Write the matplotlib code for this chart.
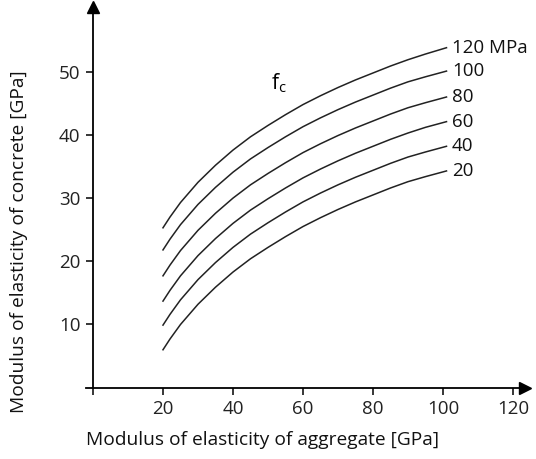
import matplotlib
matplotlib.use('Agg')
import matplotlib.pyplot as plt

plt.rcParams['font.family'] = ['Open Sans', 'DejaVu Sans']

# 骨料弹性模量 [GPa]
agg_modulus = [20, 22, 25, 30, 35, 40, 45, 50, 55, 60, 65, 70, 75, 80, 85, 90, 95, 101]
# 各混凝土强度下的弹性模量 [GPa]
curve_labels = ['120 MPa', '100', '80', '60', '40', '20']
ec_120 = [25.3, 27.0, 29.3, 32.5, 35.2, 37.6, 39.7, 41.5, 43.2, 44.8, 46.2, 47.5, 48.7, 49.8, 50.9, 51.9, 52.8, 53.8]
ec_100 = [21.8, 23.5, 25.8, 29.0, 31.7, 34.1, 36.2, 38.0, 39.7, 41.3, 42.7, 44.0, 45.2, 46.3, 47.4, 48.4, 49.2, 50.1]
ec_80 = [17.7, 19.4, 21.7, 24.9, 27.6, 30.0, 32.1, 33.9, 35.6, 37.2, 38.6, 39.9, 41.1, 42.2, 43.3, 44.3, 45.1, 46.0]
ec_60 = [13.7, 15.4, 17.7, 20.9, 23.6, 26.0, 28.1, 29.9, 31.6, 33.2, 34.6, 35.9, 37.1, 38.2, 39.3, 40.3, 41.2, 42.1]
ec_40 = [9.9, 11.6, 13.9, 17.1, 19.8, 22.2, 24.3, 26.1, 27.8, 29.4, 30.8, 32.1, 33.3, 34.4, 35.5, 36.5, 37.3, 38.2]
ec_20 = [6.0, 7.7, 10.0, 13.2, 15.9, 18.3, 20.4, 22.2, 23.9, 25.5, 26.9, 28.2, 29.4, 30.5, 31.6, 32.6, 33.4, 34.3]
curves = [ec_120, ec_100, ec_80, ec_60, ec_40, ec_20]

xticks = [0, 20, 40, 60, 80, 100, 120]
xtick_labels = ['', '20', '40', '60', '80', '100', '120']
yticks = [10, 20, 30, 40, 50]

fig = plt.figure(figsize=(5.36, 4.59), dpi=100)
ax = fig.add_axes([80 / 536, 59 / 459, 456 / 536, 400 / 459])
ax.set_xlim(-3.71, 126.57)
ax.set_ylim(-1.95, 61.35)

for vals, lab in zip(curves, curve_labels):
    ax.plot(agg_modulus, vals, color='#222222', lw=1.1)
    ax.text(agg_modulus[-1] + 1.6, vals[-1], lab, fontsize=13.5,
            va='center', ha='left', color='#111111')

ax.text(50.8, 48.2, r'f$_\mathregular{c}$', fontsize=15, ha='left', va='center')

# 坐标轴和箭头
for s in ax.spines.values():
    s.set_visible(False)
ax.spines['bottom'].set_position(('data', 0))
ax.spines['left'].set_position(('data', 0))
ax.plot([-2, 122], [0, 0], color='black', lw=1.3, clip_on=False)
ax.plot([0, 0], [0, 59.5], color='black', lw=1.3, clip_on=False)
ax.plot(123.5, 0, marker='>', color='black', markersize=9, clip_on=False)
ax.plot(0, 60.3, marker='^', color='black', markersize=9, clip_on=False)

ax.set_xticks(xticks)
ax.set_xticklabels(xtick_labels)
ax.set_yticks(yticks)
ax.tick_params(axis='both', labelsize=13.5, length=5, width=1.1, pad=4,
               labelcolor='#222222')
ax.xaxis.set_ticks_position('bottom')
ax.yaxis.set_ticks_position('left')

fig.text(262 / 536, 1 - 440 / 459, 'Modulus of elasticity of aggregate [GPa]',
         fontsize=13.8, ha='center', va='center', color='#111111')
fig.text(19 / 536, 1 - 242 / 459, 'Modulus of elasticity of concrete [GPa]',
         fontsize=13.8, ha='center', va='center', rotation=90, color='#111111')

fig.savefig('out.png', dpi=100)
